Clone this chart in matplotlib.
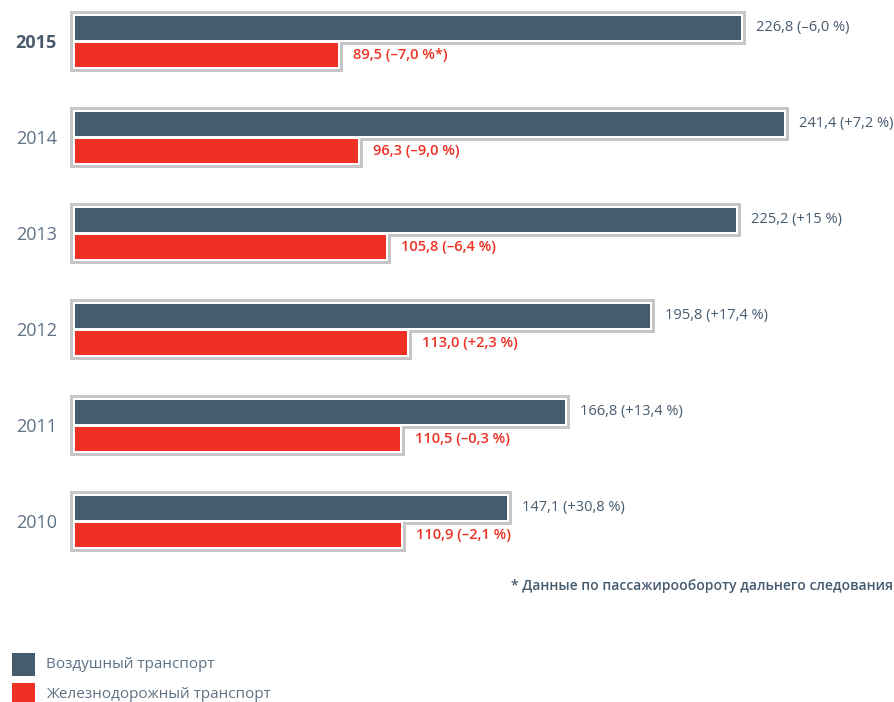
import numpy as np
import matplotlib.pyplot as plt
from matplotlib.patches import Rectangle

plt.rcParams['font.family'] = ['Open Sans', 'DejaVu Sans']

years = ["2015", "2014", "2013", "2012", "2011", "2010"]
air = [226.8, 241.4, 225.2, 195.8, 166.8, 147.1]
rail = [89.5, 96.3, 105.8, 113.0, 110.5, 110.9]
air_labels = ["226,8 (–6,0 %)", "241,4 (+7,2 %)", "225,2 (+15 %)",
              "195,8 (+17,4 %)", "166,8 (+13,4 %)", "147,1 (+30,8 %)"]
rail_labels = ["89,5 (–7,0 %*)", "96,3 (–9,0 %)", "105,8 (–6,4 %)",
               "113,0 (+2,3 %)", "110,5 (–0,3 %)", "110,9 (–2,1 %)"]

c_air = "#475b6f"
c_rail = "#ee3124"
c_box = "#c6c6c6"
c_text = "#5f7185"

W, H = 895, 702
px_per_unit = 2.937
px_per_row = 96.1
x0_px, y0_px = 75, 41

fig = plt.figure(figsize=(W / 100, H / 100), dpi=100)
ax = fig.add_axes([0, 0, 1, 1])
ax.set_xlim(-x0_px / px_per_unit, (W - x0_px) / px_per_unit)
ax.set_ylim((H - y0_px) / px_per_row, -y0_px / px_per_row)
ax.axis("off")

pos = np.arange(len(years))
bh = 24 / px_per_row
off_air = -13.5 / px_per_row
off_rail = 13.5 / px_per_row

# outline boxes: gray, then white gap, then bars
for pad, col in [(5, c_box), (2, "white")]:
    dx = pad / px_per_unit
    dy = pad / px_per_row
    for i in pos:
        for val, off in [(air[i], off_air), (rail[i], off_rail)]:
            ax.add_patch(Rectangle((-dx, i + off - bh / 2 - dy), val + 2 * dx,
                                   bh + 2 * dy, facecolor=col, edgecolor="none"))

ax.barh(pos + off_air, air, height=bh, color=c_air, zorder=3)
ax.barh(pos + off_rail, rail, height=bh, color=c_rail, zorder=3)

lab_dx = 15 / px_per_unit
for i in pos:
    ax.text(air[i] + lab_dx, i + off_air, air_labels[i], color=c_air,
            fontsize=10.5, va="center", ha="left")
    ax.text(rail[i] + lab_dx, i + off_rail, rail_labels[i], color=c_rail,
            fontsize=10.5, va="center", ha="left", fontweight="semibold")
    ax.text(-18 / px_per_unit, i + 0.02, years[i],
            color="#4a5a6c" if i == 0 else c_text,
            fontsize=13, va="center", ha="right",
            fontweight="bold" if i == 0 else "normal")

fig.text(893 / W, 1 - 586 / H, "* Данные по пассажирообороту дальнего следования",
         color=c_air, fontsize=10, ha="right", va="center", fontweight="semibold")

# legend
fig.patches.append(Rectangle((12 / W, 1 - 676 / H), 23 / W, 23 / H,
                             transform=fig.transFigure, facecolor=c_air))
fig.patches.append(Rectangle((12 / W, 1 - 706 / H), 23 / W, 23 / H,
                             transform=fig.transFigure, facecolor=c_rail))
fig.text(46 / W, 1 - 664 / H, "Воздушный транспорт", color=c_text,
         fontsize=11, va="center", ha="left")
fig.text(46 / W, 1 - 694 / H, "Железнодорожный транспорт", color=c_text,
         fontsize=11, va="center", ha="left")

fig.savefig("out.png", dpi=100)
